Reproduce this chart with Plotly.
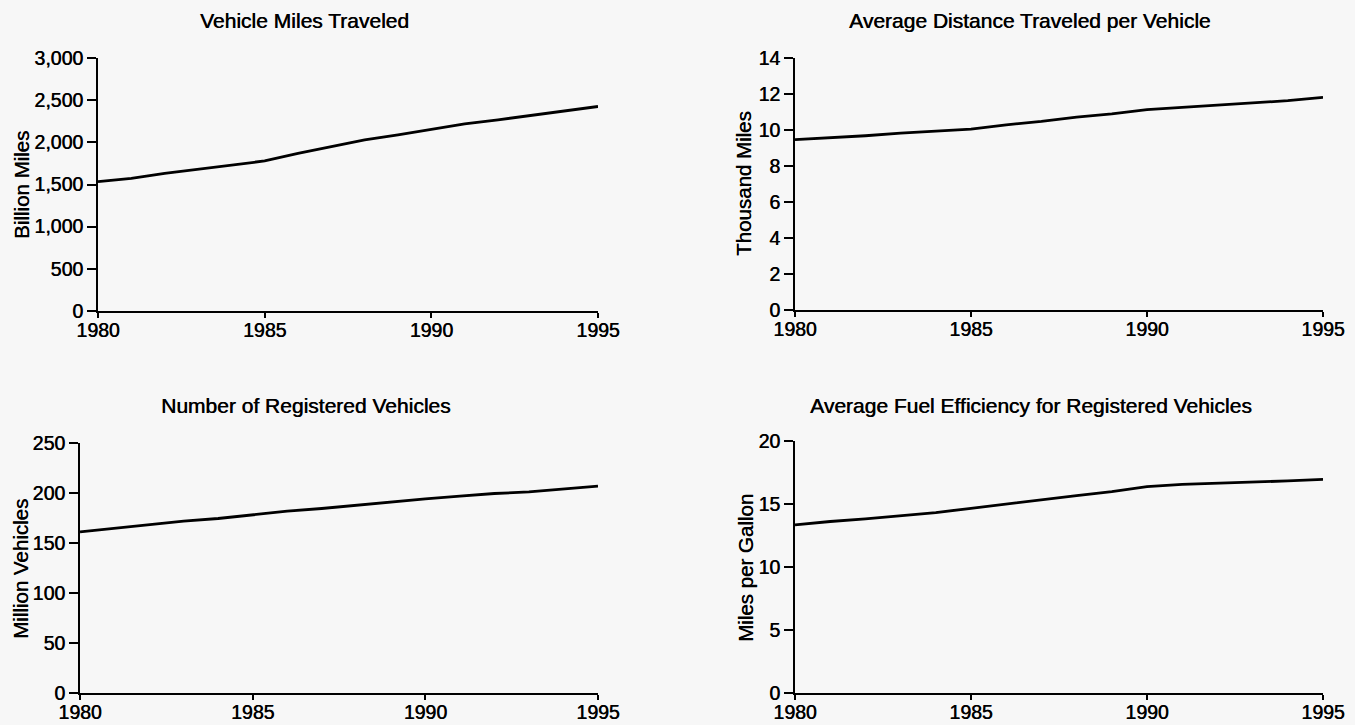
import plotly.graph_objects as go

years = list(range(1980, 1996))

vmt_billion = [1534, 1573, 1633, 1680, 1732, 1779, 1870, 1950, 2029, 2088,
               2156, 2219, 2267, 2318, 2366, 2425]
dist_thousand = [9.46, 9.55, 9.68, 9.83, 9.92, 10.05, 10.29, 10.48, 10.72, 10.90,
                 11.13, 11.26, 11.37, 11.50, 11.63, 11.81]
vehicles_million = [161.2, 164.6, 168.5, 171.9, 174.5, 178.5, 181.8, 184.5, 187.8, 190.5,
                    194.1, 196.8, 199.5, 201.1, 204.1, 206.8]
mpg = [13.34, 13.61, 13.82, 14.08, 14.32, 14.66, 15.01, 15.32, 15.67, 15.98,
       16.38, 16.56, 16.64, 16.72, 16.83, 16.96]

titles = ["Vehicle Miles Traveled", "Average Distance Traveled per Vehicle",
          "Number of Registered Vehicles", "Average Fuel Efficiency for Registered Vehicles"]
y_titles = ["Billion Miles", "Thousand Miles", "Million Vehicles", "Miles per Gallon"]
x_ticks = [1980, 1985, 1990, 1995]
y_ticks = [
    [0, 500, 1000, 1500, 2000, 2500, 3000],
    [0, 2, 4, 6, 8, 10, 12, 14],
    [0, 50, 100, 150, 200, 250],
    [0, 5, 10, 15, 20],
]
series = [vmt_billion, dist_thousand, vehicles_million, mpg]

W, H = 1355, 725
FONT = "Liberation Sans, Arial, Helvetica, sans-serif"
BG = "#f7f7f7"
# slight text-shadow gives the labels a medium stroke weight
TXT = dict(family=FONT, color="black", size=19, shadow="0.5px 0px 0px black")

# plot areas in pixels: (left, right, top, bottom)
boxes = [(98, 598, 58, 311), (795, 1323, 58, 310),
         (80, 598, 443, 693), (795, 1323, 441, 693)]
title_pos = [(304, 21), (1030, 21), (305, 405), (1031, 405)]
ytitle_pos = [(21, 185), (743, 184), (20, 569), (745, 568)]

fig = go.Figure()
layout = dict(
    template="none",
    width=W, height=H, margin=dict(l=0, r=0, t=0, b=0, autoexpand=False),
    paper_bgcolor=BG, plot_bgcolor=BG, showlegend=False,
    font=TXT,
)
annotations = []
for i in range(4):
    n = "" if i == 0 else str(i + 1)
    fig.add_trace(go.Scatter(x=years, y=series[i], mode="lines",
                             line=dict(color="black", width=2.8),
                             xaxis="x" + n, yaxis="y" + n, hoverinfo="x+y"))
    l, r, t, b = boxes[i]
    layout["xaxis" + n] = dict(
        domain=[l / W, r / W], anchor="y" + n, range=[1980, 1995],
        tickvals=x_ticks, ticks="outside", ticklen=5, tickwidth=2,
        tickcolor="black", automargin=False, ticklabelstandoff=-4,
        showline=True, linewidth=2, linecolor="black", showgrid=False,
        zeroline=False, tickfont=dict(TXT, size=19.5),
    )
    layout["yaxis" + n] = dict(
        domain=[1 - b / H, 1 - t / H], anchor="x" + n,
        range=[0, y_ticks[i][-1]], tickvals=y_ticks[i],
        tickformat=",", ticks="outside", ticklen=9, tickwidth=2,
        tickcolor="black", automargin=False,
        showline=True, linewidth=2, linecolor="black", showgrid=False,
        zeroline=False, tickfont=dict(TXT, size=19.5),
    )
    tx, ty = title_pos[i]
    annotations.append(dict(text=titles[i], x=tx / W, y=1 - ty / H,
                            xref="paper", yref="paper", showarrow=False,
                            xanchor="center", yanchor="middle",
                            font=dict(TXT, size=21)))
    ax, ay = ytitle_pos[i]
    annotations.append(dict(text=y_titles[i], x=ax / W, y=1 - ay / H,
                            xref="paper", yref="paper", showarrow=False,
                            xanchor="center", yanchor="middle", textangle=-90,
                            font=dict(TXT, size=20.5)))

layout["annotations"] = annotations
fig.update_layout(**layout)
fig.write_html("out.html")
